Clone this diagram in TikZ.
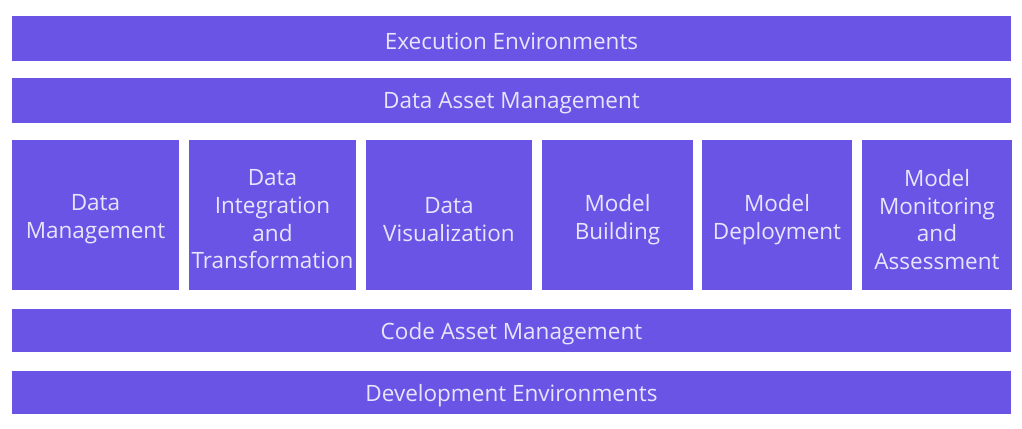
\documentclass[tikz,border=0pt]{standalone}
\usepackage{fontspec}
\setmainfont{Open Sans}
\definecolor{barfill}{HTML}{6A54E6}
\definecolor{bartext}{HTML}{E8E4FB}
\begin{document}
\begin{tikzpicture}[x=1bp,y=-1bp,
  blk/.style={fill=barfill,draw=none,inner sep=0pt,outer sep=0pt},
  lbl/.style={text=bartext,align=center,inner sep=0pt,
    font=\fontsize{22.5bp}{27.7bp}\selectfont},
  txt/.style={label={[lbl,yshift=-3bp]center:#1}},
  txtc/.style={label={[lbl,yshift=-4.5bp]center:#1}}]
\useasboundingbox[fill=white] (0,0) rectangle (1022,428);
% horizontal bars
\node[blk,minimum width=999bp,minimum height=45bp,txt={Execution Environments}] (exec) at (511.5,38.5) {};
\node[blk,minimum width=999bp,minimum height=45bp,txt={Data Asset Management}] (dam) at (511.5,100.5) {};
\node[blk,minimum width=999bp,minimum height=43bp,txt={Code Asset Management}] (cam) at (511.5,330.5) {};
\node[blk,minimum width=999bp,minimum height=43bp,txt={Development Environments}] (dev) at (511.5,392.5) {};
% columns
\node[blk,minimum width=167bp,minimum height=150bp,txtc={Data\\Management}] (dm) at (95.5,215) {};
\node[blk,minimum width=167bp,minimum height=150bp,txtc={Data\\Integration\\and\\Transformation}] (dit) at (272.5,215) {};
\node[blk,minimum width=166bp,minimum height=150bp,txtc={Data\\Visualization}] (dv) at (449,215) {};
\node[blk,minimum width=151bp,minimum height=150bp,txtc={Model\\Building}] (mb) at (617.5,215) {};
\node[blk,minimum width=150bp,minimum height=150bp,txtc={Model\\Deployment}] (md) at (777,215) {};
\node[blk,minimum width=150bp,minimum height=150bp,txtc={Model\\Monitoring\\and\\Assessment}] (mma) at (937,215) {};
\end{tikzpicture}
\end{document}
